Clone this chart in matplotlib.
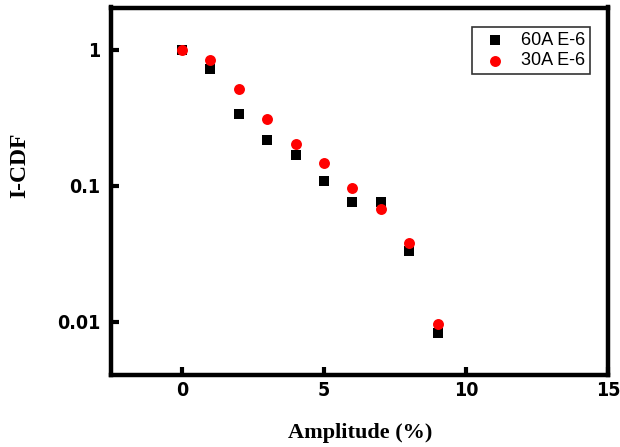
import matplotlib
matplotlib.use("Agg")
import matplotlib.pyplot as plt
from matplotlib import font_manager
from matplotlib.ticker import FixedLocator, NullLocator, FixedFormatter

amplitude = [0, 1, 2, 3, 4, 5, 6, 7, 8, 9]
cdf_60A = [1.0, 0.724, 0.337, 0.217, 0.168, 0.108, 0.0755, 0.0755, 0.0334, 0.0083]
cdf_30A = [1.0, 0.84, 0.515, 0.31, 0.202, 0.147, 0.096, 0.068, 0.038, 0.0097]
x_ticks = [0, 5, 10, 15]
y_ticks = [1, 0.1, 0.01]
y_tick_labels = ["1", "0.1", "0.01"]

names = {f.name for f in font_manager.fontManager.ttflist}
if 'Liberation Sans Narrow' in names:
    tick_font = ['Liberation Sans Narrow', 'DejaVu Sans']
    tick_size = 15
    tick_stretch = 'normal'
else:
    tick_font = ['DejaVu Sans']
    tick_size = 14
    tick_stretch = 'condensed'

fig = plt.figure(figsize=(6.2, 4.47), dpi=100)
ax = fig.add_axes([111/620, 1-374.5/447, (608-111)/620, (374.5-7.5)/447])

ax.scatter(amplitude, cdf_60A, marker='s', s=48, color='black', label='60A E-6', zorder=3, linewidths=0)
ax.scatter(amplitude, cdf_30A, marker='o', s=62, color='#ff0000', label='30A E-6', zorder=4, linewidths=0)

ax.set_yscale('log')
ax.set_xlim(-2.5, 15)
ax.set_ylim(0.0041, 2.05)

ax.xaxis.set_major_locator(FixedLocator(x_ticks))
ax.yaxis.set_major_locator(FixedLocator(y_ticks))
ax.yaxis.set_major_formatter(FixedFormatter(y_tick_labels))
ax.yaxis.set_minor_locator(NullLocator())
ax.xaxis.set_minor_locator(NullLocator())

ax.tick_params(axis='both', which='major', direction='in', length=6, width=3,
               top=False, right=False, labelsize=tick_size)
ax.tick_params(axis='x', pad=5)
ax.tick_params(axis='y', pad=7.5)
for lab in ax.get_xticklabels() + ax.get_yticklabels():
    lab.set_fontweight('bold')
    lab.set_family(tick_font)
    lab.set_fontstretch(tick_stretch)

for sp in ax.spines.values():
    sp.set_linewidth(3.2)

fig.text(360/620, 1-433/447, 'Amplitude (%)', ha='center', va='center',
         fontsize=16, fontweight='bold', family=['Liberation Serif', 'DejaVu Serif'])
fig.text(20/620, 1-165/447, 'I-CDF', ha='center', va='center', rotation=90,
         fontsize=17, fontweight='bold', family=['Liberation Serif', 'DejaVu Serif'])

leg = ax.legend(loc='upper right', bbox_to_anchor=(0.963, 0.946), frameon=True, fancybox=False,
                edgecolor='black', prop={'family': ['Liberation Sans', 'DejaVu Sans'], 'size': 13},
                handletextpad=0.45, borderpad=0.25, labelspacing=0.2, handlelength=2.0,
                borderaxespad=0)
leg.get_frame().set_linewidth(1.2)

fig.savefig('out.png', dpi=100)
